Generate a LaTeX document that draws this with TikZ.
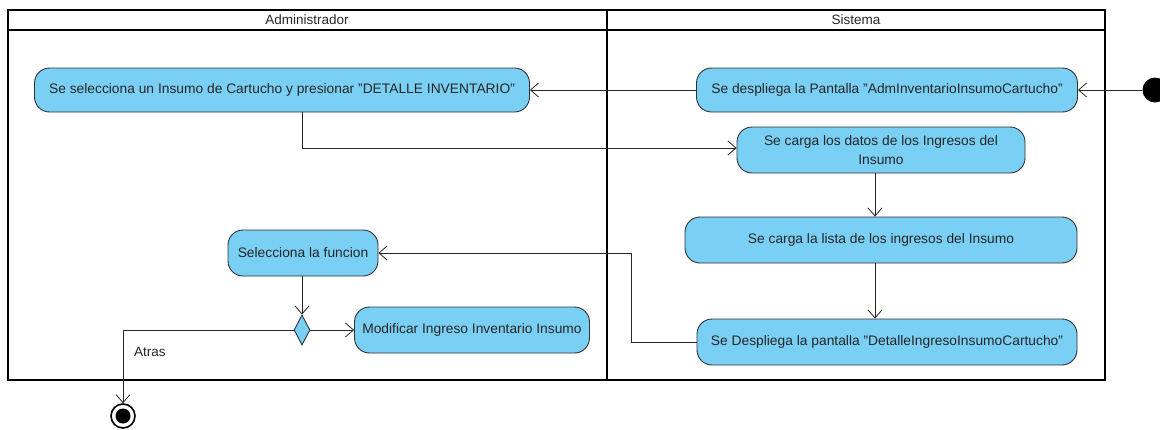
\documentclass[tikz,border=0pt]{standalone}
\usepackage{fontspec}
\setmainfont{Liberation Sans}
\usetikzlibrary{arrows.meta,shapes.geometric}
\definecolor{actblue}{RGB}{122,207,244}
\definecolor{edgegray}{RGB}{50,50,50}
\begin{document}
\begin{tikzpicture}[x=1pt,y=-1pt,
  act/.style={draw=edgegray, fill=actblue, rounded corners=15pt, line width=0.9pt,
    font=\fontsize{13.8}{19}\selectfont, text=black!85, align=center, inner sep=0pt},
  arr/.style={draw=black!85, line width=0.8pt, -{Straight Barb[length=8pt,width=14pt]}},
  lane/.style={draw=black, line width=1.6pt},
  lbl/.style={font=\fontsize{13.5}{16}\selectfont, text=black!85, inner sep=0pt}]
\useasboundingbox (0,0) rectangle (1160,429);
% swimlanes
\draw[lane] (8,10) rectangle (1105,380);
\draw[lane] (8,30) -- (1105,30);
\draw[lane] (607,10) -- (607,380);
\node[lbl] (h1) at (307,20) {Administrador};
\node[lbl] (h2) at (856,20) {Sistema};
% activities
\node[act, minimum width=495, minimum height=44] (a) at (282,90)
  {Se selecciona un Insumo de Cartucho y presionar "DETALLE INVENTARIO"};
\node[act, minimum width=381, minimum height=44] (b) at (887,90)
  {Se despliega la Pantalla "AdmInventarioInsumoCartucho"};
\node[act, minimum width=288, minimum height=46] (c) at (881,150)
  {Se carga los datos de los Ingresos del\\Insumo};
\node[act, minimum width=392, minimum height=46] (d) at (881,240)
  {Se carga la lista de los ingresos del Insumo};
\node[act, minimum width=380, minimum height=46] (e) at (887,342)
  {Se Despliega la pantalla "DetalleIngresoInsumoCartucho"};
\node[act, minimum width=150, minimum height=46] (f) at (303,253)
  {Selecciona la funcion};
\node[act, minimum width=235, minimum height=46] (g) at (472,330)
  {Modificar Ingreso Inventario Insumo};
\node[diamond, draw=edgegray, fill=actblue, line width=0.9pt, inner sep=0pt,
  minimum width=16, minimum height=30] (dia) at (302,330) {};
% initial and final nodes
\node[circle, fill=black, minimum size=25, inner sep=0pt] (init) at (1155,90) {};
\node[circle, draw=black, fill=white, line width=1.6pt, minimum size=24, inner sep=0pt] (fin) at (123,416) {};
\node[circle, fill=black, minimum size=15, inner sep=0pt] (finin) at (fin.center) {};
\node[lbl, anchor=west] (atras) at (134,352) {Atras};
% connectors
\draw[arr] (init) -- (b.east);
\draw[arr] (b.west) -- (a.east);
\draw[arr] ([xshift=20pt]a.south) |- ([yshift=2pt]c.west);
\draw[arr] ([xshift=-6pt]c.south) -- ([xshift=-6pt]c.south |- d.north);
\draw[arr] ([xshift=-6pt]d.south) -- ([xshift=-6pt]d.south |- e.north);
\draw[arr] (e.west) -- ++(-65,0) |- (f.east);
\draw[arr] ([xshift=-1pt]f.south) -- (dia.north);
\draw[arr] (dia.east) -- (g.west);
\draw[arr] (dia.west) -| (fin.north);
\end{tikzpicture}
\end{document}
